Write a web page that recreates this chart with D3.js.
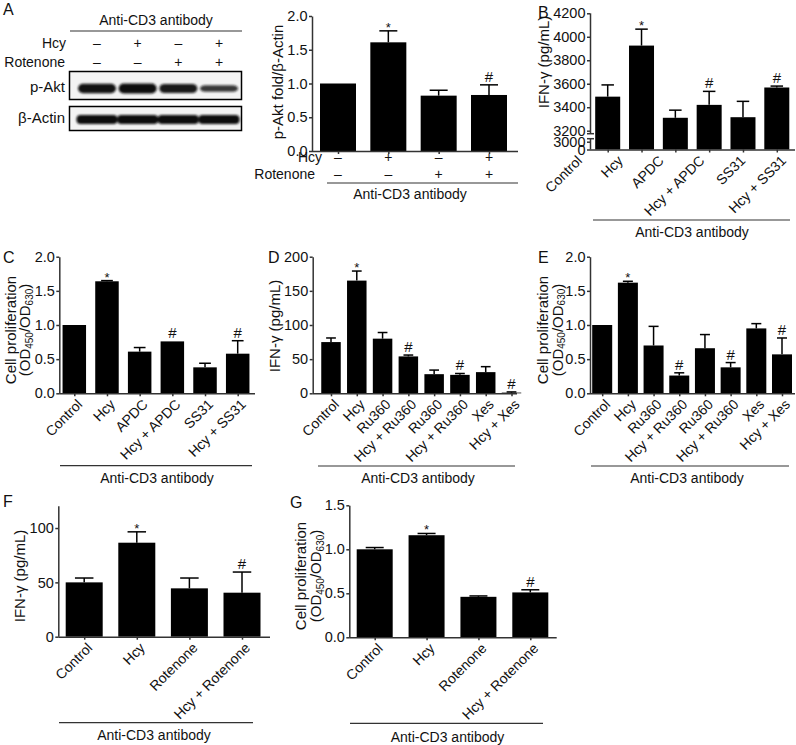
<!DOCTYPE html>
<html><head><meta charset="utf-8">
<script src="https://cdn.jsdelivr.net/npm/d3@7"></script>
<style>
body{margin:0;background:#fff}
svg{display:block}
text{font-family:"Liberation Sans",Arial,Helvetica,sans-serif;fill:#111}
</style>
</head><body>
<svg id="fig" width="796" height="745"></svg>
<script>
// ---------------- DATA ----------------
// Panel A – western blot
const blotHcy = ["–","+","–","+"];
const blotRot = ["–","–","+","+"];
const pAktBand = [0.95, 1.0, 0.9, 0.65];
const actinBand = [1.0, 1.0, 1.0, 1.0];

// Panel A – quantification
const aHcy = ["–","+","–","+"];
const aRot = ["–","–","+","+"];
const aMeans = [1.0, 1.61, 0.82, 0.83];
const aErr = [0, 0.17, 0.08, 0.15];
const aMarks = ["", "*", "", "#"];
const aTicks = [0, 0.5, 1.0, 1.5, 2.0];

// Panel B – IFN-γ
const bCats = ["Control","Hcy","APDC","Hcy + APDC","SS31","Hcy + SS31"];
const bMeans = [3490, 3925, 3310, 3420, 3315, 3568];
const bErr = [100, 140, 65, 115, 135, 12];
const bMarks = ["", "*", "", "#", "", "#"];
const bTicks = [0, 3000, 3200, 3400, 3600, 3800, 4000, 4200];

// Panel C – proliferation
const cCats = ["Control","Hcy","APDC","Hcy + APDC","SS31","Hcy + SS31"];
const cMeans = [1.0, 1.64, 0.61, 0.76, 0.38, 0.58];
const cErr = [0, 0.01, 0.06, 0, 0.06, 0.19];
const cMarks = ["", "*", "", "#", "", "#"];
const cTicks = [0, 0.5, 1.0, 1.5, 2.0];

// Panel D – IFN-γ
const dCats = ["Control","Hcy","Ru360","Hcy + Ru360","Ru360","Hcy + Ru360","Xes","Hcy + Xes"];
const dMeans = [75, 165, 80, 54, 28, 27, 31, 1];
const dErr = [6, 14, 9, 2, 6, 2, 8, 1];
const dMarks = ["", "*", "", "#", "", "#", "", "#"];
const dTicks = [0, 50, 100, 150, 200];

// Panel E – proliferation
const eCats = ["Control","Hcy","Ru360","Hcy + Ru360","Ru360","Hcy + Ru360","Xes","Hcy + Xes"];
const eMeans = [1.0, 1.62, 0.70, 0.26, 0.66, 0.38, 0.95, 0.57];
const eErr = [0, 0.02, 0.28, 0.04, 0.20, 0.07, 0.07, 0.24];
const eMarks = ["", "*", "", "#", "", "#", "", "#"];
const eTicks = [0, 0.5, 1.0, 1.5, 2.0];

// Panel F – IFN-γ
const fCats = ["Control","Hcy","Rotenone","Hcy + Rotenone"];
const fMeans = [50, 86.5, 44.5, 40.5];
const fErr = [4, 10, 9.5, 19];
const fMarks = ["", "*", "", "#"];
const fTicks = [0, 50, 100];

// Panel G – proliferation
const gCats = ["Control","Hcy","Rotenone","Hcy + Rotenone"];
const gMeans = [1.0, 1.16, 0.46, 0.51];
const gErr = [0.02, 0.02, 0.01, 0.03];
const gMarks = ["", "*", "", "#"];
const gTicks = [0, 0.5, 1.0, 1.5];

// ---------------- DRAWING ----------------
const svg = d3.select("#fig");
const AX = "#333";
const TICKFS = 14.5;

const defs = svg.append("defs");
defs.append("filter").attr("id","blur").attr("x","-20%").attr("y","-60%").attr("width","140%").attr("height","220%")
  .append("feGaussianBlur").attr("stdDeviation",1.3);

function letter(t, x, y){
  svg.append("text").attr("x",x).attr("y",y).attr("font-size",16).text(t);
}
function antiCD3(x1, x2, ly, tx, ty){
  svg.append("line").attr("x1",x1).attr("x2",x2).attr("y1",ly).attr("y2",ly)
    .attr("stroke",AX).attr("stroke-width",1.2);
  svg.append("text").attr("x",tx).attr("y",ty).attr("text-anchor","middle")
    .attr("font-size",14).text("Anti-CD3 antibody");
}
function yLabelSimple(t, x, cy){
  svg.append("text").attr("transform",`translate(${x},${cy}) rotate(-90)`)
    .attr("text-anchor","middle").attr("font-size",15).text(t);
}
function yLabelOD(x1, x2, cy){
  svg.append("text").attr("transform",`translate(${x1},${cy}) rotate(-90)`)
    .attr("text-anchor","middle").attr("font-size",15).text("Cell proliferation");
  const t = svg.append("text").attr("transform",`translate(${x2},${cy}) rotate(-90)`)
    .attr("text-anchor","middle").attr("font-size",15);
  t.append("tspan").text("(OD");
  t.append("tspan").attr("font-size",10).attr("dy",2.5).text("450");
  t.append("tspan").attr("dy",-2.5).text("/OD");
  t.append("tspan").attr("font-size",10).attr("dy",2.5).text("630");
  t.append("tspan").attr("dy",-2.5).text(")");
}

function panel(o){
  const g = svg.append("g");
  const y = o.y, y0 = y(0);
  const n = o.means.length;
  const x = d3.scalePoint().domain(d3.range(n)).range(o.xr);
  // bars
  g.append("g").selectAll("rect").data(o.means).join("rect")
    .attr("x",(d,i)=>x(i)-o.bw/2).attr("width",o.bw)
    .attr("y",d=>y(d)).attr("height",d=>Math.max(0,y0-y(d)))
    .attr("fill","#000");
  // error bars (upper)
  const eg = g.append("g").attr("stroke","#000").attr("stroke-width",1.5);
  o.err.forEach((e,i)=>{
    if(!e) return;
    const cx = x(i), yt = y(o.means[i]+e);
    eg.append("line").attr("x1",cx).attr("x2",cx).attr("y1",y(o.means[i])).attr("y2",yt);
    eg.append("line").attr("x1",cx-o.bw*0.25).attr("x2",cx+o.bw*0.25).attr("y1",yt).attr("y2",yt);
  });
  // y axis
  const ya = g.append("g").attr("transform",`translate(${o.ax},0)`)
    .call(d3.axisLeft(y).tickValues(o.ticks).tickFormat(o.fmt).tickSize(3).tickSizeOuter(0).tickPadding(1.5));
  ya.attr("font-family",null).attr("font-size",null);
  ya.selectAll("text").attr("font-size",TICKFS).attr("fill","#111");
  ya.selectAll("line,path").attr("stroke",AX).attr("stroke-width",1.5);
  if (o.ytop !== undefined) ya.select(".domain").attr("d",`M0.5,${y0}V${y(o.ytop)}`);
  if (o.breakAxis){
    ya.select(".domain").remove();
    const b1 = y(o.breakAxis[1]) + 3, b0 = y(o.breakAxis[0]) - 3;
    const seg = [[y(o.ticks[o.ticks.length-1]), b1],[b0, y0]];
    seg.forEach(s=>ya.append("line").attr("x1",0.5).attr("x2",0.5).attr("y1",s[0]).attr("y2",s[1]).attr("stroke",AX).attr("stroke-width",1.5));
    [b1,b0].forEach(v=>ya.append("line").attr("x1",-3).attr("x2",4).attr("y1",v).attr("y2",v).attr("stroke",AX).attr("stroke-width",1.5));
  }
  // x axis
  g.append("line").attr("x1",o.ax).attr("x2",o.xend).attr("y1",y0+0.5).attr("y2",y0+0.5)
    .attr("stroke",AX).attr("stroke-width",1.5);
  const xa = g.append("g").attr("transform",`translate(0,${y0})`)
    .call(d3.axisBottom(x).tickSize(3).tickSizeOuter(0).tickFormat(""));
  xa.select(".domain").remove();
  xa.selectAll("line").attr("stroke",AX).attr("stroke-width",1.5);
  // category labels (own point scale: label spacing may differ from bar spacing)
  if (o.cats){
    const lx = d3.scalePoint().domain(d3.range(n)).range(o.lr || o.xr);
    g.selectAll("text.cat").data(o.cats).join("text").attr("class","cat")
      .attr("transform",(d,i)=>`translate(${lx(i)+o.ldx},${y0+o.ldy}) rotate(-45)`)
      .attr("text-anchor","end").attr("font-size",14).text(d=>d);
  }
  // significance marks
  o.marks.forEach((m,i)=>{
    if(!m) return;
    const yt = y(o.means[i]+o.err[i]);
    g.append("text").attr("x",x(i)).attr("y", m==="*" ? yt+1 : yt-3)
      .attr("text-anchor","middle").attr("font-size", m==="*"?13:15).text(m);
  });
  return x;
}

// ---------- Panel A: blot ----------
letter("A", 3, 15);
antiCD3(70, 242, 31, 156, 25);
const lane = d3.scalePoint().domain(d3.range(4)).range([97, 219]);
svg.append("text").attr("x",66).attr("y",48).attr("text-anchor","end").attr("font-size",14).text("Hcy");
svg.append("text").attr("x",65).attr("y",66.5).attr("text-anchor","end").attr("font-size",14).text("Rotenone");
svg.selectAll("text.bh").data(blotHcy).join("text").attr("class","bh")
  .attr("x",(d,i)=>lane(i)).attr("y",48).attr("text-anchor","middle").attr("font-size",14).text(d=>d);
svg.selectAll("text.br").data(blotRot).join("text").attr("class","br")
  .attr("x",(d,i)=>lane(i)).attr("y",66.5).attr("text-anchor","middle").attr("font-size",14).text(d=>d);
svg.append("rect").attr("x",69.5).attr("y",71.5).attr("width",172).attr("height",28)
  .attr("fill","#f3f3f3").attr("stroke","#000").attr("stroke-width",1.5);
svg.append("rect").attr("x",69.5).attr("y",106.5).attr("width",172).attr("height",24)
  .attr("fill","#f3f3f3").attr("stroke","#000").attr("stroke-width",1.5);
svg.append("text").attr("x",65).attr("y",92).attr("text-anchor","end").attr("font-size",15).text("p-Akt");
svg.append("text").attr("x",65).attr("y",123).attr("text-anchor","end").attr("font-size",15).text("β-Actin");
const bandG = svg.append("g").attr("filter","url(#blur)");
bandG.selectAll("rect.pa").data(pAktBand).join("rect").attr("class","pa")
  .attr("x",(d,i)=>lane(i)-19).attr("width",38)
  .attr("y",d=>88.5-5*d).attr("height",d=>10*d).attr("rx",5)
  .attr("fill","#111").attr("opacity",d=>0.5+0.5*d);
bandG.selectAll("rect.ac").data(actinBand).join("rect").attr("class","ac")
  .attr("x",(d,i)=>lane(i)-20.5).attr("width",41)
  .attr("y",d=>119.5-4.5*d).attr("height",d=>9*d).attr("rx",4)
  .attr("fill","#0c0c0c").attr("opacity",d=>d);

// ---------- Panel A: bars ----------
const fmt1 = d3.format(".1f");
const xA = panel({y:d3.scaleLinear().domain([0,2]).range([151,16]), means:aMeans, err:aErr, marks:aMarks,
  ticks:aTicks, fmt:fmt1, ax:312, xend:518, xr:[338,489], bw:36});
yLabelSimple("p-Akt fold/β-Actin", 283, 82);
svg.append("text").attr("x",322).attr("y",162).attr("text-anchor","end").attr("font-size",14).text("Hcy");
svg.append("text").attr("x",315).attr("y",179).attr("text-anchor","end").attr("font-size",14).text("Rotenone");
svg.selectAll("text.ah").data(aHcy).join("text").attr("class","ah")
  .attr("x",(d,i)=>xA(i)).attr("y",162).attr("text-anchor","middle").attr("font-size",14).text(d=>d);
svg.selectAll("text.ar").data(aRot).join("text").attr("class","ar")
  .attr("x",(d,i)=>xA(i)).attr("y",179).attr("text-anchor","middle").attr("font-size",14).text(d=>d);
antiCD3(327, 518, 183, 410, 199);

// ---------- Panel B ----------
letter("B", 538, 18);
panel({y:d3.scaleLinear().domain([0,3000,3200,4200]).range([149.5,141.7,130.7,13.3]),
  means:bMeans, err:bErr, marks:bMarks, ticks:bTicks, fmt:d3.format("d"),
  ax:590, xend:795, xr:[607.7,776.8], bw:25, cats:bCats, lr:[574,778], ldx:9, ldy:12, breakAxis:[3000,3200]});
yLabelSimple("IFN-γ (pg/mL)", 549, 62);
antiCD3(593, 790, 220, 692, 237);

// ---------- Panel C ----------
letter("C", 3, 263);
panel({y:d3.scaleLinear().domain([0,2]).range([393.3,256.7]), means:cMeans, err:cErr, marks:cMarks,
  ticks:cTicks, fmt:fmt1, ax:59.3, xend:255, xr:[74.3,237.7], bw:23.5, cats:cCats, ldx:9, ldy:12});
yLabelOD(15.5, 30, 330);
antiCD3(60, 252, 465.7, 157, 483);

// ---------- Panel D ----------
letter("D", 268, 263);
panel({y:d3.scaleLinear().domain([0,200]).range([393.3,256.7]), means:dMeans, err:dErr, marks:dMarks,
  ticks:dTicks, fmt:d3.format("d"), ax:312.7, xend:517, xr:[331,511.5], bw:19.5, cats:dCats, ldx:9, ldy:12});
yLabelSimple("IFN-γ (pg/mL)", 280, 326);
antiCD3(318, 515, 466, 418, 483);

// ---------- Panel E ----------
letter("E", 538, 263);
panel({y:d3.scaleLinear().domain([0,2]).range([393.3,256.7]), means:eMeans, err:eErr, marks:eMarks,
  ticks:eTicks, fmt:fmt1, ax:590, xend:795, xr:[602.2,782], bw:20, cats:eCats, ldx:9, ldy:12});
yLabelOD(548, 562.5, 330);
antiCD3(591, 789, 466, 687, 483);

// ---------- Panel F ----------
letter("F", 3, 507);
panel({y:d3.scaleLinear().domain([0,120]).range([636.7,506.3]), means:fMeans, err:fErr, marks:fMarks,
  ticks:fTicks, fmt:d3.format("d"), ax:58.3, xend:270, xr:[84.2,242], bw:37, cats:fCats, ldx:9, ldy:12, ytop:120});
yLabelSimple("IFN-γ (pg/mL)", 25, 576);
antiCD3(59, 253, 722.7, 154, 740);

// ---------- Panel G ----------
letter("G", 290, 508);
panel({y:d3.scaleLinear().domain([0,1.5]).range([637.3,505.3]), means:gMeans, err:gErr, marks:gMarks,
  ticks:gTicks, fmt:fmt1, ax:349.3, xend:556.7, xr:[374.7,530.3], bw:36, cats:gCats, ldx:9, ldy:12});
yLabelOD(306, 321, 576);
antiCD3(350, 543, 723.3, 447.5, 741.5);
</script>
</body></html>
